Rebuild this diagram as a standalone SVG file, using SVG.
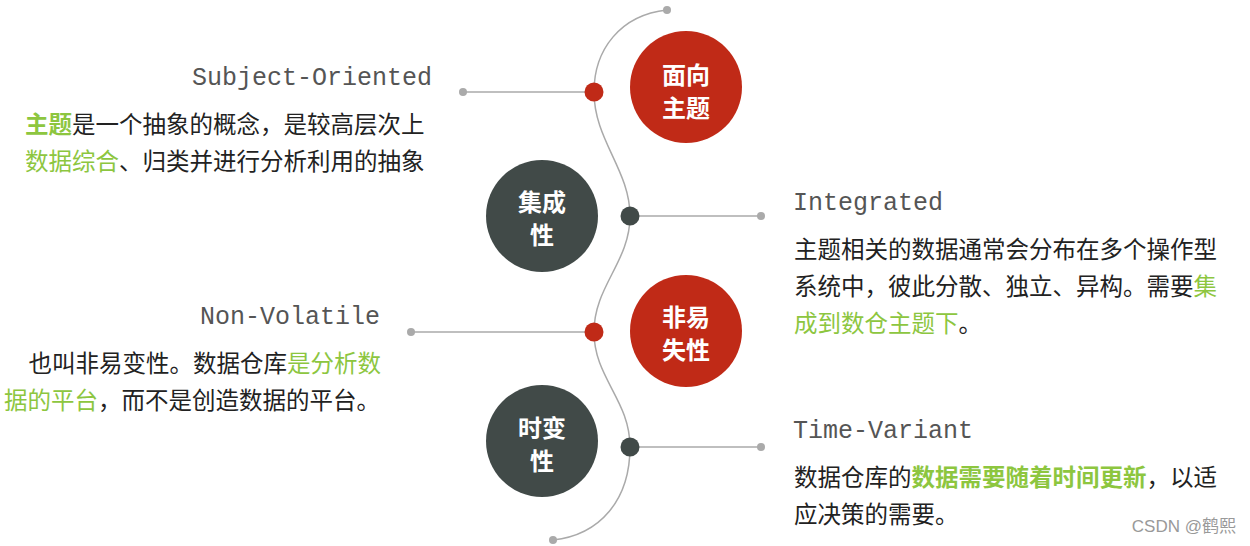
<svg xmlns="http://www.w3.org/2000/svg" width="1250" height="546" viewBox="0 0 1250 546">
<style>
.t{font-family:"Liberation Mono",monospace;font-size:25px;fill:#555}
.b{font-family:"Noto Sans CJK SC",sans-serif;font-size:23.5px;fill:#222}
.g{fill:#8dc63f}
.gb{fill:#8dc63f;font-weight:bold}
.n{font-family:"Noto Sans CJK SC",sans-serif;font-size:24px;font-weight:bold;fill:#fff;text-anchor:middle}
.ln{stroke:#aaa;stroke-width:1.5;fill:none}
.red{fill:#c02a17}.dk{fill:#414a48}.gd{fill:#aaa}
</style>
<g id="connectors">
<path class="ln" d="M667,10 C620,15 594,50 594,92 C594,140 630,170 630,216 C630,262 594,286 594,332 C594,378 630,400 630,447 C630,500 600,535 553,540"/>
<circle class="gd" cx="667" cy="10" r="4"/><circle class="gd" cx="553" cy="540" r="4"/>
<line class="ln" x1="463" y1="92" x2="594" y2="92"/><circle class="gd" cx="463" cy="92" r="4"/>
<line class="ln" x1="630" y1="216" x2="761" y2="216"/><circle class="gd" cx="761" cy="216" r="4"/>
<line class="ln" x1="411" y1="332" x2="594" y2="332"/><circle class="gd" cx="411" cy="332" r="4"/>
<line class="ln" x1="630" y1="447" x2="761" y2="447"/><circle class="gd" cx="761" cy="447" r="4"/>
<circle class="red" cx="594" cy="92" r="9.5"/><circle class="dk" cx="630" cy="216" r="9.5"/>
<circle class="red" cx="594" cy="332" r="9.5"/><circle class="dk" cx="630" cy="447" r="9.5"/>
</g>
<g id="n1"><circle class="red" cx="686" cy="87" r="56"/><text class="n" x="686" y="84">面向</text><text class="n" x="686" y="117">主题</text></g>
<g id="n2"><circle class="dk" cx="542" cy="216" r="56"/><text class="n" x="542" y="211">集成</text><text class="n" x="542" y="244">性</text></g>
<g id="n3"><circle class="red" cx="686" cy="331" r="56"/><text class="n" x="686" y="326">非易</text><text class="n" x="686" y="359">失性</text></g>
<g id="n4"><circle class="dk" cx="542" cy="441" r="56"/><text class="n" x="542" y="437">时变</text><text class="n" x="542" y="470">性</text></g>
<g id="texts">
<text class="t" x="432" y="85" text-anchor="end">Subject-Oriented</text>
<text class="b" x="25" y="133"><tspan class="gb">主题</tspan>是一个抽象的概念，是较高层次上</text>
<text class="b" x="25" y="170"><tspan class="g">数据综合</tspan>、归类并进行分析利用的抽象</text>
<text class="t" x="793" y="210">Integrated</text>
<text class="b" x="794" y="258">主题相关的数据通常会分布在多个操作型</text>
<text class="b" x="794" y="295">系统中，彼此分散、独立、异构。需要<tspan class="g">集</tspan></text>
<text class="b" x="794" y="332"><tspan class="g">成到数仓主题下</tspan>。</text>
<text class="t" x="380" y="324" text-anchor="end">Non-Volatile</text>
<text class="b" x="381" y="372" text-anchor="end">也叫非易变性。数据仓库<tspan class="g">是分析数</tspan></text>
<text class="b" x="4" y="409"><tspan class="g">据的平台</tspan>，而不是创造数据的平台。</text>
<text class="t" x="793" y="438">Time-Variant</text>
<text class="b" x="794" y="486">数据仓库的<tspan class="gb">数据需要随着时间更新</tspan>，以适</text>
<text class="b" x="794" y="523">应决策的需要。</text>
<text x="1236" y="532" text-anchor="end" style="font-family:'Liberation Sans','Noto Sans CJK SC',sans-serif;font-size:17px;fill:#999">CSDN @鹤熙</text>
</g>
</svg>
